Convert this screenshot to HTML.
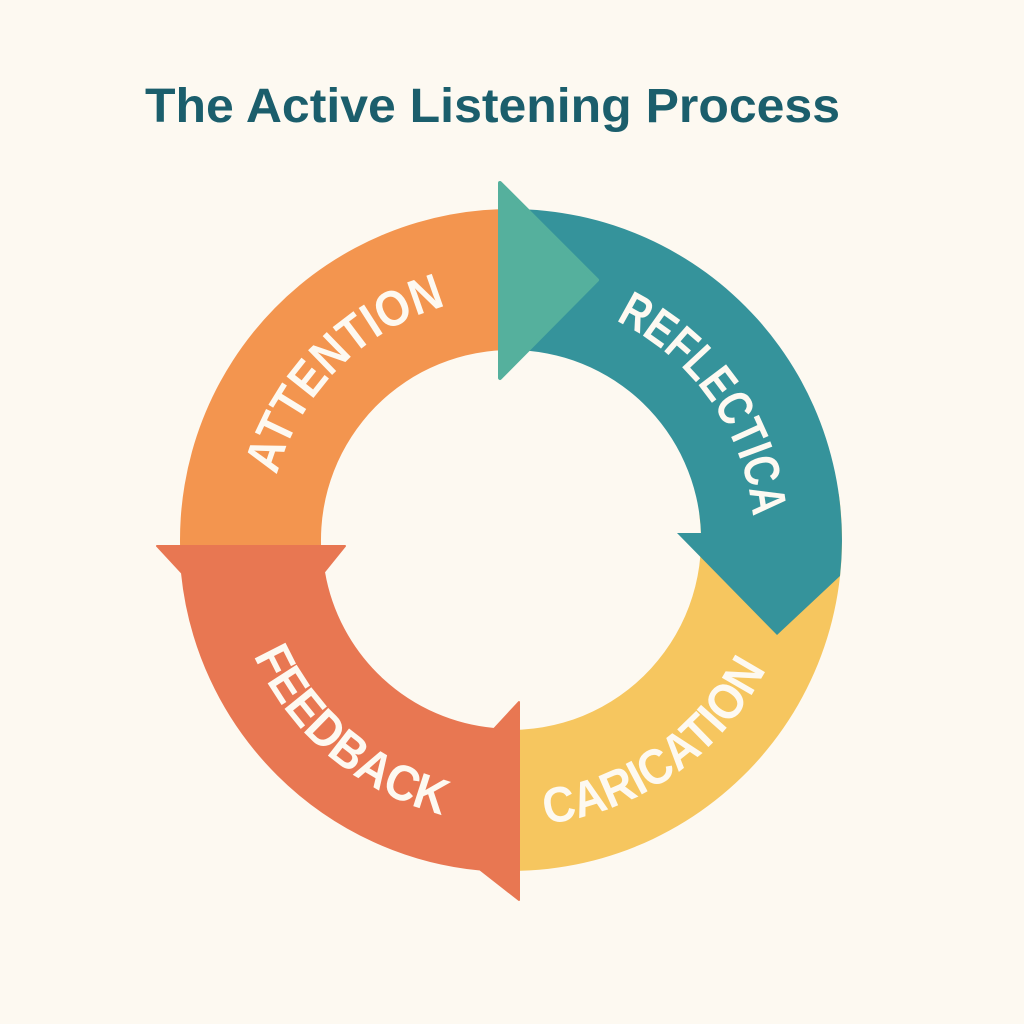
<!DOCTYPE html>
<html><head><meta charset="utf-8"><style>
html,body{margin:0;padding:0;background:#FDF9F1;}
svg{display:block;}
</style></head><body>
<svg width="1024" height="1024" viewBox="0 0 1024 1024" xmlns="http://www.w3.org/2000/svg">
<rect width="1024" height="1024" fill="#FDF9F1"/>
<text x="145" y="122" font-family="Liberation Sans, sans-serif" font-weight="bold" font-size="48" fill="#1B5E6C" textLength="695" lengthAdjust="spacingAndGlyphs">The Active Listening Process</text>

<path d="M180.2,551.6 A331,331 0 0 1 516.8,209 L514.3,350 A190,190 0 0 0 321.1,546.6 Z" fill="#F3954F"/>
<path d="M838.8,493.9 A331,331 0 0 1 493.7,870.5 L501.1,729.7 A190,190 0 0 0 699.2,513.6 Z" fill="#F6C65F"/>
<path d="M511,209 A331,331 0 0 1 840,576 L777,635 L677,533 L701,533 A190,190 0 0 0 511,350 Z" fill="#35939B"/>
<path d="M157,546 L345,546 L324,572 A190,190 0 0 0 494,729 L519,702 L519,900 L480,869.5 A331,331 0 0 1 182,573 Z" fill="#E87752" stroke="#E87752" stroke-linejoin="round" stroke-width="2"/>
<path d="M500,183 L597,280 L500,378 Z" fill="#55B09D" stroke="#55B09D" stroke-width="4" stroke-linejoin="round"/>

<defs>
<path id="pA" d="M268,540 A243,243 0 0 1 511,297"/>
<path id="pR" d="M553.2,300.7 A243,243 0 0 1 750.3,582.2"/>
<path id="pF" d="M230.1,564.6 A284,284 0 0 0 535.6,822.9"/>
<path id="pC" d="M461.7,821.7 A286,286 0 0 0 792.7,589.3"/>
</defs>
<g font-family="Liberation Sans, sans-serif" font-weight="bold" font-size="50" fill="#FDF9F1">
<text textLength="250" lengthAdjust="spacingAndGlyphs"><textPath href="#pA" startOffset="50%" text-anchor="middle">ATTENTION</textPath></text>
<text textLength="250" lengthAdjust="spacingAndGlyphs"><textPath href="#pR" startOffset="50%" text-anchor="middle">REFLECTICA</textPath></text>
<text textLength="255" lengthAdjust="spacingAndGlyphs"><textPath href="#pF" startOffset="50%" text-anchor="middle">FEEDBACK</textPath></text>
<text textLength="280" lengthAdjust="spacingAndGlyphs"><textPath href="#pC" startOffset="50%" text-anchor="middle">CARICATION</textPath></text>
</g>
</svg>
</body></html>
